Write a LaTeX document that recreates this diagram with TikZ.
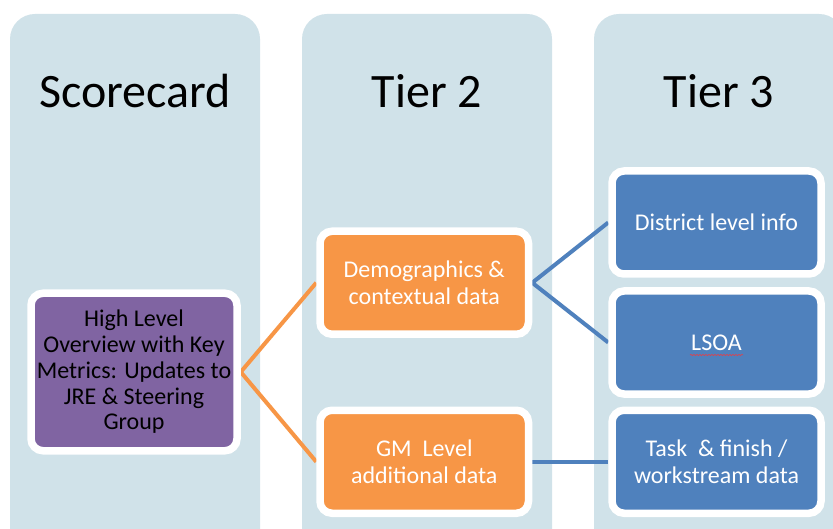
\documentclass[tikz,border=0pt]{standalone}
\usepackage{fontspec}
\setmainfont{Carlito}
\usetikzlibrary{shadows,decorations.pathmorphing}
\definecolor{colbg}{RGB}{208,226,233}
\definecolor{purp}{RGB}{128,100,162}
\definecolor{orng}{RGB}{247,150,70}
\definecolor{blu}{RGB}{79,129,189}
\pgfdeclarelayer{bg}
\pgfdeclarelayer{mid}
\pgfsetlayers{bg,mid,main}
\tikzset{
  column/.style={fill=colbg, rounded corners=25pt},
  coltitle/.style={anchor=base, font=\fontsize{48}{56}\selectfont, text=black},
  card/.style={draw=white, line width=7.5pt, rounded corners=12pt, align=center,
    font=\fontsize{24}{26.5}\selectfont, inner sep=0pt,
    drop shadow={opacity=0.25, shadow xshift=0.5pt, shadow yshift=2.5pt}},
  purpcard/.style={card, fill=purp, text=black, minimum width=206pt, minimum height=157.5pt,
    font=\fontsize{24}{25.7}\selectfont},
  orngcard/.style={card, fill=orng, text=white, minimum width=208.5pt, minimum height=103pt},
  blucard/.style={card, fill=blu, text=white, minimum width=209pt, minimum height=103pt},
  oline/.style={draw=orng, line width=4pt},
  bline/.style={draw=blu, line width=4pt}
}
\begin{document}
\begin{tikzpicture}[x=1pt,y=-1pt]
\useasboundingbox (0,0) rectangle (833,529);
\clip (0,0) rectangle (833,529);
\begin{pgfonlayer}{bg}
  \fill[white] (0,0) rectangle (833,529);
  \path[column] (10,14) rectangle (260,580);
  \path[column] (302,14) rectangle (552,580);
  \path[column] (594,14) rectangle (844,580);
\end{pgfonlayer}
\node[coltitle] (t1) at (135,108) {Scorecard};
\node[coltitle] (t2) at (427,108) {Tier 2};
\node[coltitle] (t3) at (719,108) {Tier 3};

\node[purpcard] (sc) at (134,372) {High Level\\Overview with Key\\Metrics: Updates to\\JRE \& Steering\\Group};
\node[orngcard] (demo) at (424.25,282.75) {Demographics \&\\contextual data};
\node[orngcard] (gm) at (424.25,461.75) {GM\ \ Level\\additional data};
\node[blucard] (dist) at (716.5,222.5) {District level info};
\node[blucard] (lsoa) at (716.5,342.5) {LSOA};
\node[blucard] (task) at (716.5,461.75) {Task\ \ \& finish /\\workstream data};

\begin{pgfonlayer}{mid}
  \draw[oline] (demo.west) -- (sc.east) -- (gm.west);
  \draw[bline] (dist.west) -- (demo.east) -- (lsoa.west);
  \draw[bline] (gm.east) -- (task.east -| task.west);
\end{pgfonlayer}
\coordinate (ulA) at (690,355);
\coordinate (ulB) at (743,355);
\draw[red!80!white, line width=0.5pt, decorate, decoration={snake, amplitude=0.5pt, segment length=3pt}] (ulA) -- (ulB);
\end{tikzpicture}
\end{document}
